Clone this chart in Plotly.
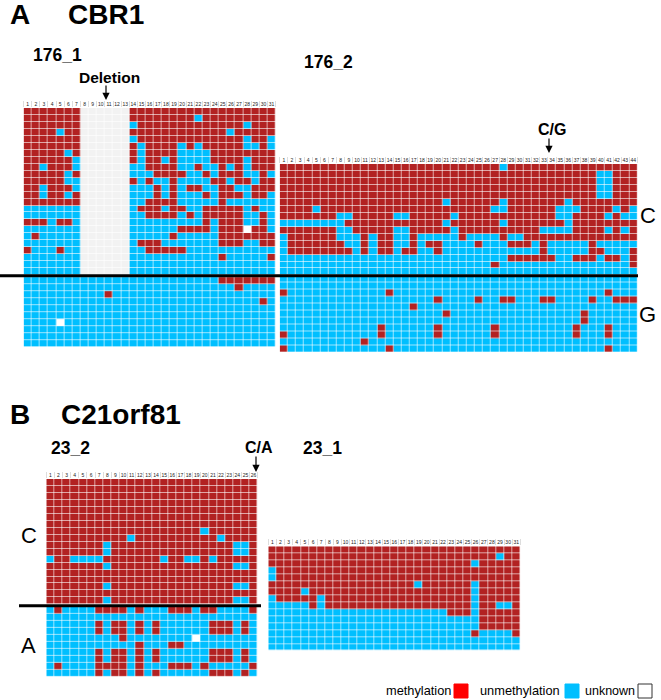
import plotly.graph_objects as go

W, H = 661, 700
# Cell states
BLUE, RED, WHITE, GREY = 0, 1, 2, 3
COLORSCALE = [[0, "#00BFFF"], [0.25, "#00BFFF"], [0.25, "#B22222"], [0.5, "#B22222"],
              [0.5, "#FFFFFF"], [0.75, "#FFFFFF"], [0.75, "#F2F2F2"], [1, "#F2F2F2"]]

# --- A / 176_1 (31 CpG sites): per read, the sites of the minority state
S176_1_C_BLUE = ["", "22", "14,28", "5,26", "14,28,31", "15,20,22,28-29,31", "6,15,20-23",
    "7,15,18,20-23,28", "3,7,14-15,20-21,23-24,26,28", "6,14-16,21-22,24,28-29,31",
    "6-7,15,17-18,20-23,26,29", "3,7,14-16,18,20,23-24,27-28", "3,6,14-16,18,20-22,24,28,31",
    "14-15,20-24,26-31", "1-7,14,18,21-22,28,30-31", "1-7,14-15,20,22,28-29,31",
    "4,7,14-22,24,28-29,31", "1-7,14-19,24,31", "1,3-7,14-18,20-24", "1-7,14,18-24,28-29",
    "2-4,6-7,14-15,21-31", "1-7,14-24,26-30", "1-31", "1-31"]
S176_1_C_WHITE = {17: "28"}
S176_1_DELETED = "8-13"
S176_1_G_RED = ["25-31", "27", "11", "30", "", "", "", "", "", ""]
S176_1_G_WHITE = {6: "5"}

# --- A / 176_2 (44 sites)
S176_2_C_BLUE = ["28", "40-41", "40-41", "40-41", "40-41", "21,28,36",
    "5,27-28,35-37,42,44", "8-9,15-16,22,35-36,41,43-44", "1-8,21,28,36",
    "8-9,15-16,22,33-36,41,43", "1,8-10,12,15-16,18-22,24-27,29-30",
    "1,9-10,12,15-16,18,21-24,26-28,32,34-38,40-44",
    "1,10,12,15,18-19,21-32,34-38,41-43", "1-28,35-36,40,43",
    "1-26,28-43", "1-44"]
S176_2_G_RED = ["", "", "1,14,41", "20,25,28-29,33-34,39,42-44", "17", "21,38", "38",
    "13,20,27,37,41", "1,13,20,27,37,41", "11", "1,14,41"]

# --- B / 23_2 (26 sites)
S23_2_C_BLUE = ["", "", "", "", "", "", "", "20", "11,22", "8,24-25", "8,24-25",
    "1,4-7,15,18-19,21", "8,24-25", "", "", "8,24-25", "", "8,24-25"]
S23_2_A_RED = ["2,7-10,12,16-18,20-21,26", "", "7,9-10,12,14,21-23,25", "7,9-10,12,14,21-23,25",
    "10", "12,16-17", "7,9-10,12,14,21-23,25", "7,9-10,12,14,21-23,25",
    "2,7-10,12,16-18,20,26", "7,9-10,12,14,21-23,25"]
S23_2_A_WHITE = {4: "19"}

# --- B / 23_1 (31 sites)
S23_1_BLUE = ["", "29", "26", "1", "1", "19,26", "5,26", "1,7,26", "1-5,7,26,29-30",
    "1-22,26", "1-26", "1-26", "1-25,27-30", "1-31", "1-31"]


def sites(spec):
    out = []
    for part in filter(None, spec.split(",")):
        a, _, b = part.partition("-")
        out += range(int(a), int(b or a) + 1)
    return out


def matrix(specs, ncol, base, mark, extras=None, fill=None):
    z = [[base] * ncol for _ in specs]
    for i, spec in enumerate(specs):
        for c in sites(spec):
            z[i][c - 1] = mark
        if fill:
            for c in sites(fill[0]):
                z[i][c - 1] = fill[1]
    for i, spec in (extras or {}).items():
        for c in sites(spec):
            z[i][c - 1] = WHITE
    return z


fig = go.Figure()
RH = 6.965
CW = 8.13


def panel(n, left, top, ncol, blocks):
    """blocks: list of (z, pixel gap before block)"""
    name = "" if n == 1 else str(n)
    row = 0.0
    total = sum(len(b[0]) for b in blocks) + sum(b[1] for b in blocks) / RH
    for z, gap in blocks:
        row += gap / RH
        fig.add_trace(go.Heatmap(z=z, x0=1, dx=1, y0=row + 0.5, dy=1, xaxis="x" + name, yaxis="y" + name,
                                 colorscale=COLORSCALE, zmin=0, zmax=3, showscale=False,
                                 xgap=0.6, ygap=0.6, hoverinfo="skip"))
        row += len(z)
    bottom = top + total * RH
    right = left + ncol * CW
    fig.update_layout({
        "xaxis" + name: dict(domain=[left / W, right / W], range=[0.5, ncol + 0.5], side="top",
                             anchor="y" + name, tickmode="array", tickvals=list(range(1, ncol + 1)),
                             ticktext=[str(i) for i in range(1, ncol + 1)], ticks="", showgrid=False,
                             zeroline=False, showline=False, tickangle=0,
                             tickfont=dict(size=5, family="Liberation Sans", color="#222"),
                             minor=dict(tickmode="array", tickvals=[i + 0.5 for i in range(0, ncol + 1)],
                                        ticks="outside", ticklen=6, tickcolor="#DDDDDD", tickwidth=1, showgrid=False)),
        "yaxis" + name: dict(domain=[1 - bottom / H, 1 - top / H], range=[total, 0], anchor="x" + name,
                             visible=False),
    })


panel(1, 23.6, 108, 31, [
    (matrix(S176_1_C_BLUE, 31, RED, BLUE, S176_1_C_WHITE, (S176_1_DELETED, GREY)), 0),
    (matrix(S176_1_G_RED, 31, BLUE, RED, S176_1_G_WHITE), 2),
])
panel(2, 279.7, 164, 44, [
    (matrix(S176_2_C_BLUE, 44, RED, BLUE), 0),
    (matrix(S176_2_G_RED, 44, BLUE, RED), 0),
])
panel(3, 46.3, 479, 26, [
    (matrix(S23_2_C_BLUE, 26, RED, BLUE), 0),
    (matrix(S23_2_A_RED, 26, BLUE, RED, S23_2_A_WHITE), 2.5),
])
panel(4, 268.3, 546.3, 31, [
    (matrix(S23_1_BLUE, 31, RED, BLUE), 0),
])


def label(text, x, y, size, bold=False, anchor="left"):
    fig.add_annotation(text=f"<b>{text}</b>" if bold else text, x=(x - 2) / W, y=1 - y / H, xref="paper", yref="paper",
                       xanchor=anchor, yanchor="middle", showarrow=False,
                       font=dict(size=size, family="Liberation Sans", color="black"))


def arrow(x, y_tip, length):
    fig.add_annotation(text="", x=x / W, y=1 - y_tip / H, xref="paper", yref="paper", ax=0, ay=-length,
                       showarrow=True, arrowhead=2, arrowsize=1.2, arrowwidth=1.2, arrowcolor="black")


def rule(x0, x1, y):
    fig.add_shape(type="line", xref="paper", yref="paper", x0=x0 / W, x1=x1 / W, y0=1 - y / H, y1=1 - y / H,
                  line=dict(color="black", width=3))


def swatch(x0, x1, y0, y1, fill, line):
    fig.add_shape(type="rect", xref="paper", yref="paper", x0=x0 / W, x1=x1 / W, y0=1 - y1 / H, y1=1 - y0 / H,
                  fillcolor=fill, line=dict(color=line, width=1))


label("A", 10, 14, 28, True)
label("CBR1", 68, 14, 28, True)
label("176_1", 33, 55, 17.5, True)
label("Deletion", 79, 77.5, 15.5, True)
arrow(106, 100, 16)
label("176_2", 304, 61.5, 17.5, True)
label("C/G", 538, 129, 16, True)
arrow(549, 153, 16)
label("C", 640, 215, 22)
label("G", 639, 315, 22)
rule(0, 638, 275.7)

label("B", 10, 414, 28, True)
label("C21orf81", 61, 414, 28, True)
label("23_2", 51, 448, 17.5, True)
label("C/A", 245, 447, 16, True)
arrow(256, 472, 17)
label("23_1", 303, 448, 17.5, True)
label("C", 21, 535, 22)
label("A", 21, 645, 22)
rule(19, 261, 605.7)

label("methylation", 386, 690.5, 12.8)
swatch(454, 468, 684, 698, "#FF0000", "#FF0000")
label("unmethylation", 480, 690.5, 12.8)
swatch(565, 579, 684, 698, "#00BFFF", "#00BFFF")
label("unknown", 585, 690.5, 12.5)
swatch(638, 652, 684, 698, "#FFFFFF", "#333333")

fig.update_layout(width=W, height=H, margin=dict(l=0, r=0, t=0, b=0), paper_bgcolor="white",
                  plot_bgcolor="white", showlegend=False)
fig.write_html("out.html", config={"displayModeBar": False},
               post_script="document.body.style.margin='0';document.body.style.overflow='hidden';")
